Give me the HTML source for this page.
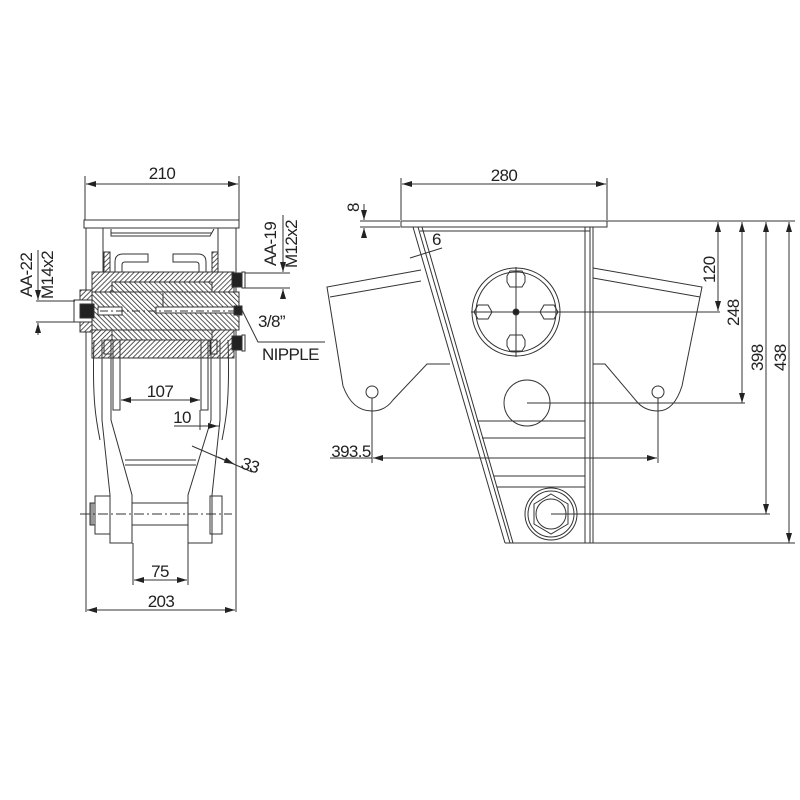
<!DOCTYPE html>
<html><head><meta charset="utf-8"><style>
html,body{margin:0;padding:0;background:#fff}
svg{display:block}
text{font-family:"Liberation Sans",sans-serif;font-size:17px;fill:#222;letter-spacing:-0.6px}
</style></head><body>
<svg width="800" height="800" viewBox="0 0 800 800" xmlns="http://www.w3.org/2000/svg">
<defs>
<pattern id="h" patternUnits="userSpaceOnUse" width="3.5" height="3.5" patternTransform="rotate(45)">
<rect width="4" height="4" fill="#fff"/><line x1="0" y1="0" x2="0" y2="4" stroke="#222" stroke-width="1.5"/></pattern>
<pattern id="h2" patternUnits="userSpaceOnUse" width="3.5" height="3.5" patternTransform="rotate(-45)">
<rect width="4" height="4" fill="#fff"/><line x1="0" y1="0" x2="0" y2="4" stroke="#222" stroke-width="1.5"/></pattern>
<marker id="a" viewBox="0 0 10 6" refX="10" refY="3" markerWidth="10" markerHeight="6" orient="auto-start-reverse" markerUnits="userSpaceOnUse"><path d="M0,0L10,3L0,6z" fill="#222"/></marker>
</defs>
<g fill="none" stroke="#333" stroke-width="1">
<line x1="85" y1="176" x2="85" y2="220"/><line x1="239" y1="176" x2="239" y2="220"/>
<line x1="86" y1="184" x2="238" y2="184" marker-start="url(#a)" marker-end="url(#a)"/>
<rect x="84" y="220" width="155" height="8"/>
<line x1="86" y1="228" x2="86" y2="612"/><line x1="236" y1="228" x2="236" y2="612"/>
<line x1="103" y1="228" x2="103" y2="272"/><line x1="218" y1="228" x2="218" y2="272"/>
<path d="M111,229 L111,236 L210,236 L214,229"/>
<line x1="111" y1="233" x2="212" y2="233"/>
<path d="M115,282 V262 q0,-8 8,-8 H148 V262 H125 q-3,0 -3,3 V282"/>
<path d="M206,282 V262 q0,-8 -8,-8 H173 V262 H196 q3,0 3,3 V282"/>
<path d="M104,252 h6 v30 h-6z" fill="url(#h)"/>
<path d="M212,252 h6 v30 h-6z" fill="url(#h)"/>
<rect x="92" y="272" width="142" height="86" fill="url(#h)"/>
<rect x="112" y="282" width="100" height="10" fill="url(#h2)"/>
<rect x="112" y="330" width="100" height="10" fill="url(#h2)"/>
<rect x="92" y="292" width="147" height="38" fill="url(#h2)"/>
<rect x="80" y="290" width="12" height="42" fill="url(#h)"/>
<rect x="74" y="300" width="18" height="22" fill="#fff"/>
<rect x="80" y="304" width="14" height="14" fill="#222"/>
<rect x="98" y="307" width="24" height="8" fill="#fff"/>
<rect x="156" y="307" width="82" height="6" fill="#fff"/>
<line x1="163" y1="293" x2="163" y2="307"/>
<line x1="100" y1="311" x2="238" y2="311" stroke-dasharray="8,3,2,3"/>
<rect x="232" y="273" width="10" height="14" fill="#222"/>
<rect x="232" y="336" width="10" height="14" fill="#222"/>
<rect x="242" y="272" width="3" height="16"/><rect x="242" y="335" width="3" height="16"/>
<rect x="234" y="306" width="8" height="9" fill="#222"/>
<rect x="113" y="340" width="7" height="70"/>
<rect x="201" y="340" width="7" height="70"/>
<rect x="104" y="340" width="7" height="14" fill="url(#h)"/>
<rect x="210" y="340" width="7" height="14" fill="url(#h)"/>
<path d="M102,340 V420 L110,495 V543 H132 V495 L111,420 V340"/>
<path d="M220,340 V420 L212,495 V543 H188 V495 L211,420 V340"/>
<path d="M94,340 C92,400 96,420 100,440"/><path d="M228,340 C230,400 226,420 222,440"/>
<line x1="125" y1="460" x2="196" y2="460"/><line x1="125" y1="465" x2="196" y2="465"/>
<line x1="132" y1="503" x2="188" y2="503"/><line x1="132" y1="525" x2="188" y2="525"/>
<rect x="95" y="496" width="15" height="38"/><rect x="210" y="496" width="12" height="38"/>
<path d="M95,503 h-5 v22 h5" fill="#999"/>
<line x1="80" y1="514" x2="232" y2="514" stroke-dasharray="10,3,2,3"/>
<line x1="121" y1="400" x2="200" y2="400" marker-start="url(#a)" marker-end="url(#a)"/>
<line x1="174" y1="426" x2="220" y2="426"/>
<line x1="200" y1="426" x2="218" y2="426" marker-end="url(#a)"/>
<line x1="200" y1="410" x2="200" y2="430"/>
<line x1="192" y1="446" x2="252" y2="472"/>
<line x1="218" y1="457" x2="234" y2="464" marker-end="url(#a)"/>
<line x1="133" y1="543" x2="133" y2="585"/><line x1="188" y1="543" x2="188" y2="585"/>
<line x1="134" y1="580" x2="187" y2="580" marker-start="url(#a)" marker-end="url(#a)"/>
<line x1="87" y1="610" x2="235" y2="610" marker-start="url(#a)" marker-end="url(#a)"/>
<line x1="36" y1="301" x2="75" y2="301"/><line x1="36" y1="322" x2="75" y2="322"/>
<line x1="38" y1="287" x2="38" y2="300" marker-end="url(#a)"/>
<line x1="38" y1="335" x2="38" y2="323" marker-end="url(#a)"/>
<line x1="38" y1="250" x2="38" y2="287"/>
<line x1="245" y1="273" x2="290" y2="273"/><line x1="245" y1="288" x2="290" y2="288"/>
<line x1="283" y1="262" x2="283" y2="272" marker-end="url(#a)"/>
<line x1="283" y1="298" x2="283" y2="289" marker-end="url(#a)"/>
<line x1="283" y1="215" x2="283" y2="262"/>
<path d="M242,310 L258,342 H325"/>

<line x1="401" y1="178" x2="401" y2="220"/><line x1="607" y1="178" x2="607" y2="220"/>
<line x1="402" y1="184" x2="606" y2="184" marker-start="url(#a)" marker-end="url(#a)"/>
<rect x="401" y="221" width="206" height="6"/>
<line x1="360" y1="221" x2="400" y2="221"/><line x1="360" y1="227" x2="400" y2="227"/>
<line x1="364" y1="204" x2="364" y2="220" marker-end="url(#a)"/>
<line x1="364" y1="238" x2="364" y2="228" marker-end="url(#a)"/>
<line x1="413" y1="227" x2="505" y2="543"/>
<line x1="418" y1="227" x2="510" y2="543"/>
<line x1="422" y1="227" x2="513" y2="543"/>
<line x1="585" y1="227" x2="585" y2="543"/><line x1="590" y1="227" x2="590" y2="543"/><line x1="593" y1="227" x2="593" y2="543"/>
<line x1="420" y1="231" x2="590" y2="231"/>
<line x1="505" y1="543" x2="795" y2="543"/>
<path d="M421,270 L327,287 L343,386 Q352,411 372,411 Q385,411 393,400 L427,364 H450"/>
<line x1="330" y1="297" x2="421" y2="281"/>
<path d="M593,268 L702,287 L682,386 Q674,411 658,411 Q646,411 638,403 L605,364 H593"/>
<line x1="593" y1="278" x2="700" y2="297"/>
<circle cx="372" cy="392" r="6"/><circle cx="658" cy="392" r="6"/>
<circle cx="516" cy="312" r="44"/><circle cx="516" cy="312" r="40"/>
<path d="M510,271 h12 l3,5 v6 l-3,5 h-12 l-3,-5 v-6z"/>
<path d="M510,335 h12 l3,5 v6 l-3,5 h-12 l-3,-5 v-6z"/>
<path d="M478,305 h10 l4,7 l-4,7 h-10 l-4,-7z"/>
<path d="M544,305 h10 l4,7 l-4,7 h-10 l-4,-7z"/>
<line x1="471" y1="312" x2="720" y2="312"/>
<line x1="516" y1="267" x2="516" y2="357"/>
<circle cx="516" cy="312" r="3" fill="#222"/>
<circle cx="527" cy="403" r="23"/>
<line x1="527" y1="403" x2="745" y2="403"/>
<line x1="477" y1="421" x2="585" y2="421"/>
<line x1="482" y1="438" x2="585" y2="438"/>
<line x1="494" y1="476" x2="585" y2="476"/>
<line x1="497" y1="487" x2="585" y2="487"/>
<circle cx="551" cy="514" r="26"/><circle cx="551" cy="514" r="23"/>
<path d="M551,494 L568,504 V524 L551,534 L534,524 V504z"/>
<circle cx="551" cy="514" r="15"/>
<line x1="551" y1="514" x2="770" y2="514"/>
<line x1="607" y1="221" x2="795" y2="221"/>
<line x1="718" y1="222" x2="718" y2="311" marker-start="url(#a)" marker-end="url(#a)"/>
<line x1="742" y1="222" x2="742" y2="403" marker-start="url(#a)" marker-end="url(#a)"/>
<line x1="766" y1="222" x2="766" y2="514" marker-start="url(#a)" marker-end="url(#a)"/>
<line x1="789" y1="222" x2="789" y2="543" marker-start="url(#a)" marker-end="url(#a)"/>
<line x1="372" y1="398" x2="372" y2="463"/><line x1="658" y1="398" x2="658" y2="463"/>
<line x1="330" y1="458" x2="372" y2="458"/>
<line x1="373" y1="458" x2="657" y2="458" marker-start="url(#a)" marker-end="url(#a)"/>
<line x1="410" y1="258" x2="442" y2="248"/>
</g>
<text x="162" y="179" text-anchor="middle">210</text>
<text x="160" y="397" text-anchor="middle">107</text>
<text x="182" y="423" text-anchor="middle">10</text>
<text transform="translate(240,468) rotate(18)">33</text>
<text x="160" y="577" text-anchor="middle">75</text>
<text x="161" y="607" text-anchor="middle">203</text>
<text x="258" y="327">3/8”</text>
<text x="262" y="360">NIPPLE</text>
<text transform="translate(32,297) rotate(-90)">AA-22</text>
<text transform="translate(53,299) rotate(-90)">M14x2</text>
<text transform="translate(276,266) rotate(-90)">AA-19</text>
<text transform="translate(297,268) rotate(-90)">M12x2</text>
<text x="504" y="181" text-anchor="middle">280</text>
<text transform="translate(359,212) rotate(-90)">8</text>
<text x="432" y="245">6</text>
<text x="351" y="457" text-anchor="middle">393.5</text>
<text transform="translate(715,283) rotate(-90)">120</text>
<text transform="translate(739,326) rotate(-90)">248</text>
<text transform="translate(763,371) rotate(-90)">398</text>
<text transform="translate(786,371) rotate(-90)">438</text>
</svg>
</body></html>
